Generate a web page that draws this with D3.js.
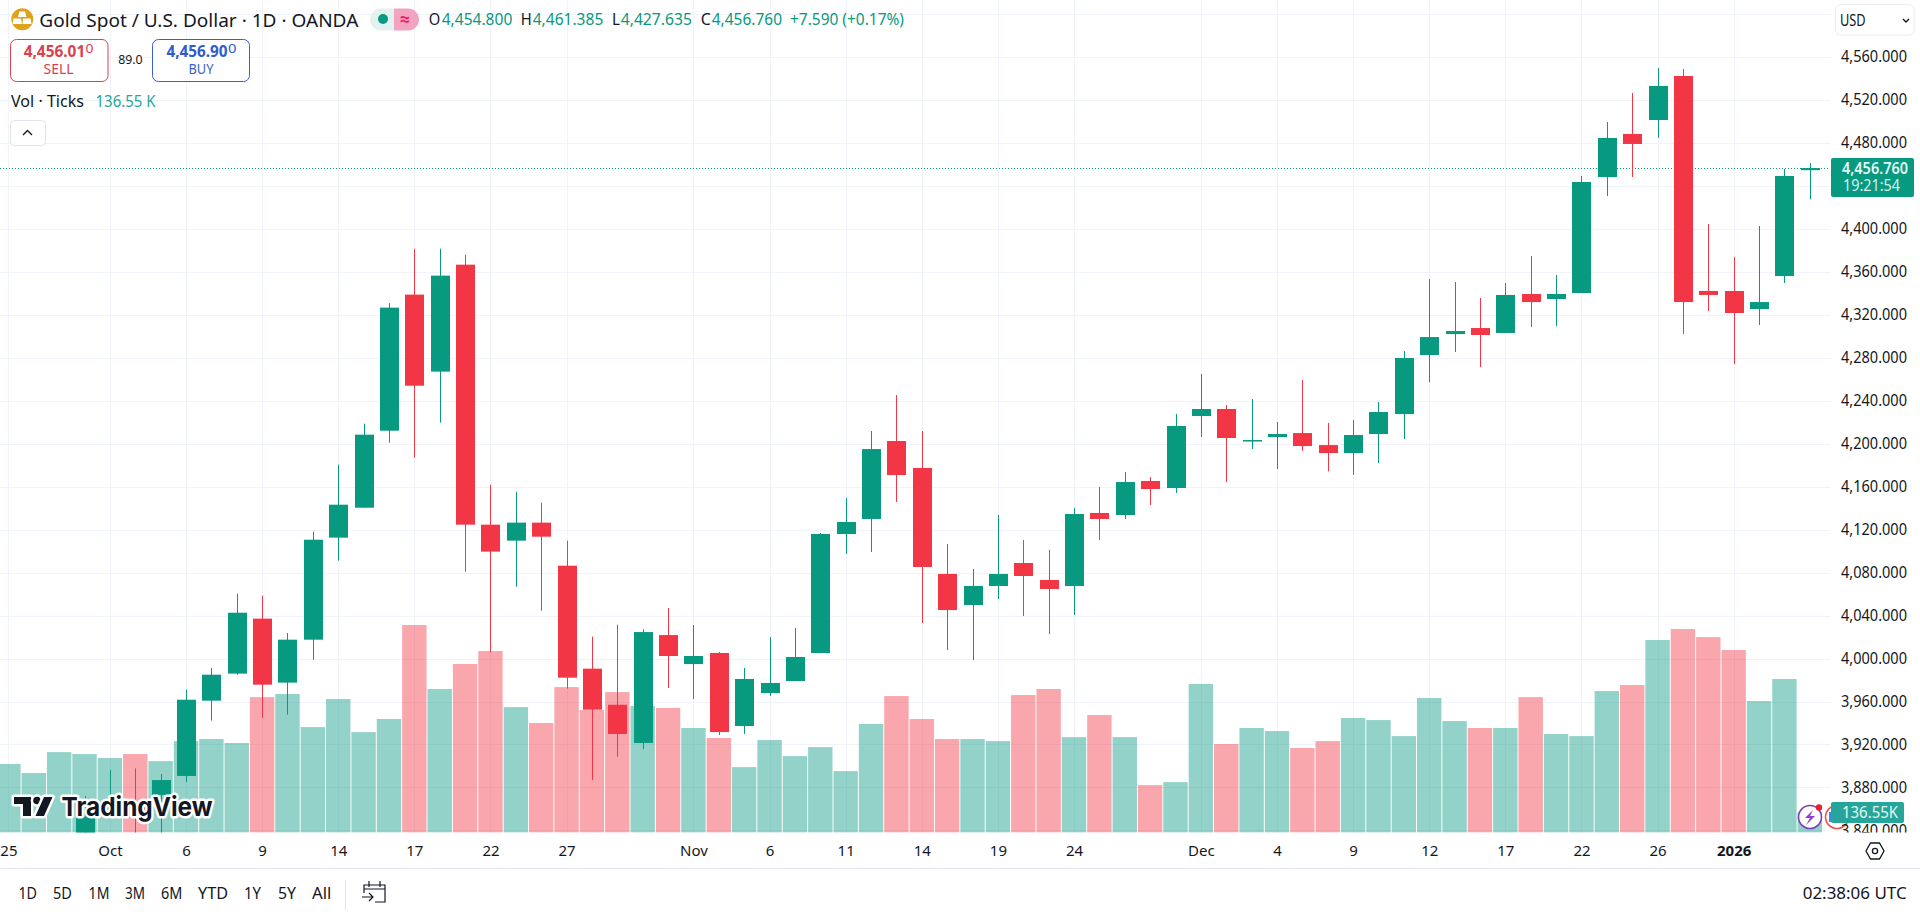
<!DOCTYPE html>
<html>
<head>
<meta charset="utf-8">
<script src="https://cdn.jsdelivr.net/npm/d3@7/dist/d3.min.js"></script>
<style>
html,body{margin:0;padding:0;background:#fff;overflow:hidden}
svg{display:block}
text{font-family:"Noto Sans",Roboto,sans-serif}
</style>
</head>
<body>
<svg id="c" width="1920" height="916"></svg>
<script>
// ---- data (candles before index 3 sit below the visible pane) ----
const openP = [null,null,null,3820,3856,3865,3873,3890.7,3960.8,3986,4037.2,3977.6,4017.6,4112.6,4140.5,4212.2,4338.9,4267.2,4366.8,4124.7,4109.8,4126.6,4086.5,3990.6,3957,3921.4,4021.9,3994.9,4005.2,3937.2,3967.9,3979.1,4005.2,4116,4130,4202.6,4177.5,4078.8,4049.9,4067.6,4089,4073.2,4067.6,4135.6,4133.7,4165.4,4158.8,4225.9,4232.4,4202.6,4206.3,4210,4198.8,4191.4,4209.1,4227.7,4282.7,4302.2,4307.8,4303.2,4339.5,4334.8,4340.4,4448.4,4488.5,4501.5,4542.5,4342.3,4342.3,4325.5,4356.2,4454.8];
const highP = [null,null,null,3872,3896.3,3897.8,3892.5,3971,3991.2,4060.4,4058.6,4023.8,4118.2,4180.6,4218.7,4331,4381.7,4381.7,4376.1,4161.9,4155.4,4145.2,4109.8,4020.4,4031.6,4027.2,4047.1,4031.3,4006.1,3991.2,4020,4028.5,4116.9,4149.5,4211.9,4245.4,4211.9,4106.7,4083.4,4133.7,4110.4,4101.1,4140.2,4159.8,4173.7,4169,4227.7,4265,4236.1,4241.7,4220.3,4259.4,4219.4,4222.2,4238.9,4286.4,4353.4,4350.7,4335.8,4349.7,4374.9,4357.2,4449.4,4499.7,4526.7,4549.9,4549,4404.7,4373.9,4402.8,4455.9,4461.385];
const lowP = [null,null,null,3810,3852,3830,3835,3885,3942.2,3985,3944.7,3947.8,3999,4091.2,4140.5,4201,4187.1,4219.7,4080.9,4005.8,4067,4044.6,3972,3886.9,3908.6,3915.8,3972.6,3962.3,3928.8,3929.8,3965.1,3979.1,4005.2,4097.4,4099.2,4145.8,4033.1,4008,3998.7,4055.5,4039.6,4022.9,4040.6,4110.4,4130,4143,4154.2,4206.3,4164.4,4195.1,4176.5,4193.4,4174.3,4171,4182,4204.4,4257.5,4285.5,4271.5,4303.2,4308.7,4309.7,4340.4,4430.7,4448.4,4484.8,4302.2,4323.6,4274.3,4310.6,4349.7,4427.635];
const closeP = [null,null,null,3852.8,3862,3852,3886.9,3961.7,3985,4042.7,3975.7,4017.6,4110.7,4143.3,4208.5,4326.8,4254.1,4356.6,4124.7,4099.6,4126.6,4113.5,3982.2,3952.4,3929.8,4024.7,4002.4,4002.4,3931.6,3981,3977.3,4001.5,4116,4127.2,4195.1,4170.9,4085.3,4045.2,4067.6,4078.8,4076.9,4064.8,4134.6,4130,4164.4,4157.9,4216.6,4232.4,4205.4,4203.5,4209.1,4197.9,4191.4,4208.2,4229.6,4279.9,4299.4,4305,4301.3,4338.6,4332,4339.5,4443.8,4484.8,4479.2,4533.2,4332,4338.6,4321.8,4332,4449.4,4456.76];
const volumeK = [466,405,547,534,507,534,486,622,636,609,921,942,717,908,683,772,1411,976,1146,1234,853,745,989,833,955,860,847,711,643,445,629,520,581,418,738,928,772,636,636,622,935,976,649,799,649,323,343,1010,602,711,690,575,622,779,765,656,915,758,711,711,921,670,656,962,1003,1309,1384,1329,1241,894,1044,136.55];
const gridTicks = [3840,3880,3920,3960,4000,4040,4080,4120,4160,4200,4240,4280,4320,4360,4400,4440,4480,4520,4560,4600];
const priceLabels = [3840,3880,3920,3960,4000,4040,4080,4120,4160,4200,4240,4280,4320,4360,4400,4480,4520,4560];
const timeTickIndex = [0,4,7,10,13,16,19,22,27,30,33,36,39,42,47,50,53,56,59,62,65,68];
const timeTickLabels = ["25","Oct","6","9","14","17","22","27","Nov","6","11","14","19","24","Dec","4","9","12","17","22","26","2026"];
const rangeButtons = ["1D","5D","1M","3M","6M","YTD","1Y","5Y","All"];
const lastPrice = 4456.76;

// ---- layout / style ----
const UP="#089981", DOWN="#F23645", GRID="#F0F3FA", TXT="#131722";
const paneR=1830, paneB=832.6;
const svg=d3.select("#c");
const x=d3.scaleLinear().domain([0,71]).range([8.4,1809.8]);
const y=d3.scaleLinear().domain([3840,4560]).range([830.4,57.2]);
const v=d3.scaleLinear().domain([0,1411]).range([paneB,625]);
const isUp=i=>closeP[i]==null||closeP[i]>=openP[i];
const idx=d3.range(openP.length);
const candles=idx.filter(i=>openP[i]!=null);

svg.append("defs").append("clipPath").attr("id","pane").append("rect").attr("width",paneR).attr("height",paneB);
svg.append("defs").append("clipPath").attr("id","axisclip").append("rect").attr("x",paneR).attr("width",90).attr("height",paneB);

function T(s,xp,yp,o={}){
  const e=svg.append("text").attr("x",xp).attr("y",yp).text(s)
    .attr("font-size",o.size||15).attr("fill",o.fill||TXT).attr("text-anchor",o.anchor||"start");
  if(o.weight)e.attr("font-weight",o.weight);
  if(o.w)e.attr("textLength",o.w).attr("lengthAdjust","spacingAndGlyphs");
  return e;
}

// grid
const grid=svg.append("g");
grid.selectAll("line.h").data(gridTicks).join("line").attr("class","h")
  .attr("x1",0).attr("x2",paneR).attr("y1",d=>Math.round(y(d))+.5).attr("y2",d=>Math.round(y(d))+.5)
  .attr("stroke",GRID);
grid.selectAll("line.v").data(timeTickIndex).join("line").attr("class","v")
  .attr("x1",d=>Math.round(x(d))+.5).attr("x2",d=>Math.round(x(d))+.5).attr("y1",0).attr("y2",paneB)
  .attr("stroke",GRID);

// volume
const plot=svg.append("g").attr("clip-path","url(#pane)");
plot.append("g").selectAll("rect").data(idx).join("rect")
  .attr("x",i=>x(i)-12.2).attr("width",24.4)
  .attr("y",i=>v(volumeK[i])).attr("height",i=>paneB-v(volumeK[i]))
  .attr("fill",i=>isUp(i)?UP:DOWN).attr("fill-opacity",.44);

// last price line
plot.append("line").attr("x1",0).attr("x2",paneR).attr("y1",Math.round(y(lastPrice))+.5).attr("y2",Math.round(y(lastPrice))+.5)
  .attr("stroke",UP).attr("stroke-dasharray","1 2");

// candles
const cg=plot.append("g");
cg.selectAll("line").data(candles).join("line")
  .attr("x1",i=>Math.round(x(i))+.5).attr("x2",i=>Math.round(x(i))+.5)
  .attr("y1",i=>y(highP[i])).attr("y2",i=>y(lowP[i]))
  .attr("stroke",i=>isUp(i)?UP:DOWN).attr("stroke-width",1);
cg.selectAll("rect").data(candles).join("rect")
  .attr("x",i=>Math.round(x(i))-9).attr("width",19)
  .attr("y",i=>y(Math.max(openP[i],closeP[i])))
  .attr("height",i=>Math.max(1.5,Math.abs(y(openP[i])-y(closeP[i]))))
  .attr("fill",i=>isUp(i)?UP:DOWN);

// TradingView logo
const logo=svg.append("g");
const halo=logo.append("g").attr("stroke","#fff").attr("stroke-width",5).attr("stroke-linejoin","round").attr("paint-order","stroke").attr("fill","#131722");
halo.append("path").attr("d","M14 797H31V816H23V804H14Z");
halo.append("circle").attr("cx",37).attr("cy",800.5).attr("r",3.8);
halo.append("path").attr("d","M44 797H52.5L44 816H35.5Z");
T("TradingView",61.5,816,{size:26,weight:700,fill:"#131722",w:151})
  .attr("stroke","#fff").attr("stroke-width",5).attr("stroke-linejoin","round").attr("paint-order","stroke")
  .style("font-family","Inter,sans-serif");

// bottom of chart: little overlay icons
svg.append("circle").attr("cx",1810).attr("cy",817).attr("r",11.5).attr("fill","#fff").attr("stroke","#7B3FB5").attr("stroke-width",1.6);
svg.append("path").attr("d","M1813 810L1805 818H1810L1806 825L1815 816H1810Z").attr("fill","#8E3FD0");
svg.append("circle").attr("cx",1819).attr("cy",807.5).attr("r",3.2).attr("fill","#E5232E");
svg.append("circle").attr("cx",1837).attr("cy",817).attr("r",11.5).attr("fill","#fff").attr("stroke","#E8534F").attr("stroke-width",1.6);
svg.append("rect").attr("x",1829).attr("y",812).attr("width",4).attr("height",10).attr("fill","#3B8FE0");

// right price axis
const axR=svg.append("g").attr("clip-path","url(#axisclip)")
  .append("g").attr("transform","translate(1907,0)")
  .call(d3.axisRight(y).tickValues(priceLabels).tickSize(0).tickPadding(0).tickFormat(d3.format(",.3f")));
axR.select(".domain").remove();
axR.selectAll("text").attr("text-anchor","end").attr("x",0).attr("dy",0).attr("y",4.6)
  .attr("font-size",16).attr("fill",TXT).attr("textLength",66).attr("lengthAdjust","spacingAndGlyphs")
  .style("font-family",'"Noto Sans"');

// time axis
const axB=svg.append("g").attr("transform","translate(0,840)")
  .call(d3.axisBottom(x).tickValues(timeTickIndex).tickSize(0).tickPadding(0).tickFormat(d=>timeTickLabels[timeTickIndex.indexOf(d)]));
axB.select(".domain").remove();
axB.selectAll("text").attr("y",16).attr("dy",0).attr("font-size",15).attr("fill",TXT)
  .attr("font-weight",d=>d===68?700:400).style("font-family",'"Noto Sans"');

// last value tags
svg.append("rect").attr("x",1831).attr("y",158).attr("width",83).attr("height",39).attr("rx",2).attr("fill",UP);
T(d3.format(",.3f")(lastPrice),1842,173.5,{size:16,fill:"#e3f7f2",w:66,weight:600});
T("19:21:54",1843,190.5,{size:15.5,fill:"#d5f3ec",w:57});
svg.append("rect").attr("x",1831).attr("y",802).attr("width",73).attr("height",21).attr("rx",2).attr("fill","#26A69A");
T("136.55K",1842,817.5,{size:16,fill:"#e3f7f2",w:56});

// settings hexagon
svg.append("path").attr("d","M1866 851L1870.5 843H1879.5L1884 851L1879.5 859H1870.5Z").attr("fill","none").attr("stroke",TXT).attr("stroke-width",1.3);
svg.append("circle").attr("cx",1875).attr("cy",851).attr("r",2.6).attr("fill","none").attr("stroke",TXT).attr("stroke-width",1.3);

// separator + toolbar
svg.append("line").attr("x1",0).attr("x2",1920).attr("y1",868.5).attr("y2",868.5).attr("stroke","#E0E3EB");
const btnX=[18.4,53,88.6,125,161,198,244,278,312], btnW=[18.6,19,20.8,20,21.4,30,17,18,19.4];
rangeButtons.forEach((b,i)=>T(b,btnX[i],899,{size:16,w:btnW[i]}));
svg.append("line").attr("x1",345.5).attr("x2",345.5).attr("y1",880).attr("y2",910).attr("stroke","#E0E3EB");
svg.append("path").attr("d","M364 893V885H385V902H375M364 889H385M369 881V887M380 881V887M362 897H373M369 893L373 897L369 901")
  .attr("fill","none").attr("stroke",TXT).attr("stroke-width",1.2);
T("02:38:06 UTC",1802.7,899,{size:16.5,w:104});

// header: symbol
svg.append("circle").attr("cx",22.3).attr("cy",19.3).attr("r",11).attr("fill","#DFA21B");
svg.append("path").attr("d","M19.5 11.5H25L26.5 17H18ZM13.5 18.5H21L22 24H12.5ZM23 18.5H30.5L31.5 24H22.5Z").attr("fill","#fff");
T("Gold Spot / U.S. Dollar · 1D · OANDA",39.3,26.5,{size:17.5,w:319});
svg.append("path").attr("d","M394 8.5H381A11 11 0 0 0 381 30.5H394Z").attr("fill","#E4F2EF");
svg.append("path").attr("d","M394 8.5H408A11 11 0 0 1 408 30.5H394Z").attr("fill","#F2A3BF");
svg.append("circle").attr("cx",383).attr("cy",19).attr("r",5).attr("fill",UP);
T("≈",405,25,{size:18,fill:"#E91E63",anchor:"middle",weight:700});

// OHLC
const G="#089981";
T("O",428.7,25,{size:15.5,w:11.5});T("4,454.800",441.7,25,{size:15.5,fill:G,w:70.6});
T("H",520.7,25,{size:15.5,w:11});T("4,461.385",532.7,25,{size:15.5,fill:G,w:70.6});
T("L",612,25,{size:15.5,w:8});T("4,427.635",620.7,25,{size:15.5,fill:G,w:71.3});
T("C",700.7,25,{size:15.5,w:10});T("4,456.760",711.7,25,{size:15.5,fill:G,w:70.3});
T("+7.590 (+0.17%)",790,25,{size:15.5,fill:G,w:114});

// sell / buy
svg.append("rect").attr("x",10.5).attr("y",39.5).attr("width",97.5).attr("height",42).attr("rx",6).attr("fill","#fff").attr("stroke","#D9414F");
T("4,456.01",23.7,57,{size:15.5,fill:"#D9414F",weight:700,w:61.5});
T("0",85.5,53,{size:12,fill:"#D9414F",w:8});
T("SELL",58.5,74,{size:13.5,fill:"#D9414F",anchor:"middle",w:30});
T("89.0",130.4,64,{size:13,anchor:"middle",w:24.5});
svg.append("rect").attr("x",152.5).attr("y",39.5).attr("width",97).attr("height",42).attr("rx",6).attr("fill","#fff").attr("stroke","#3A5FC8");
T("4,456.90",166.5,57,{size:15.5,fill:"#2F5BD0",weight:700,w:61});
T("0",228,53,{size:12,fill:"#2F5BD0",w:8.5});
T("BUY",201,74,{size:13.5,fill:"#3A5FC8",anchor:"middle",w:25});

// volume legend
T("Vol · Ticks",11,106.8,{size:15.5,w:73});
T("136.55 K",95.5,106.8,{size:15.5,fill:"#26A69A",w:60});
svg.append("rect").attr("x",10.5).attr("y",120.5).attr("width",35).attr("height",25).attr("rx",4).attr("fill","#fff").attr("stroke","#E0E3EB");
svg.append("path").attr("d","M23 135L27.5 130.5L32 135").attr("fill","none").attr("stroke",TXT).attr("stroke-width",1.4);

// currency
svg.append("rect").attr("x",1835.7).attr("y",4.7).attr("width",78.5).attr("height",30.3).attr("rx",5).attr("fill","#fff").attr("stroke","#E9ECF2");
T("USD",1840,26,{size:15.5,w:25.7});
svg.append("path").attr("d","M1903 19L1906 22L1909 19").attr("fill","none").attr("stroke",TXT).attr("stroke-width",1.4);
</script>
</body>
</html>
